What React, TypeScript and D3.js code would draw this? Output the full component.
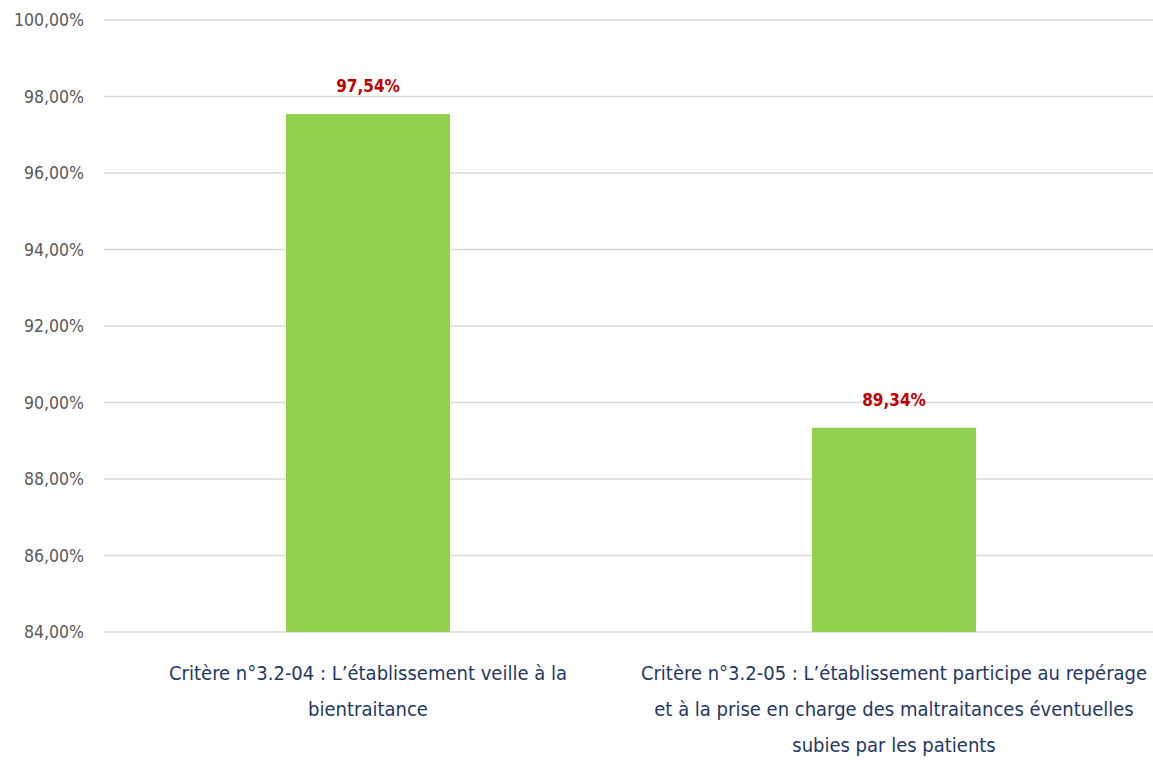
import React from "react";
import * as d3 from "d3";

const categories = ["Critère n°3.2-04", "Critère n°3.2-05"];
const categoryLines = [
  ["Critère n°3.2-04 : L’établissement veille à la", "bientraitance"],
  [
    "Critère n°3.2-05 : L’établissement participe au repérage",
    "et à la prise en charge des maltraitances éventuelles",
    "subies par les patients",
  ],
];
const values = [97.54, 89.34];
const yTicks = [84, 86, 88, 90, 92, 94, 96, 98, 100];

const W = 1153;
const H = 760;
const FONT = "'Liberation Sans Narrow', 'DejaVu Sans Condensed', 'Arial Narrow', sans-serif";

const fmt = (v: number) => v.toFixed(2).replace(".", ",") + "%";

export default function App() {
  const x = d3.scaleBand<string>().domain(categories).range([105, 1157]).paddingInner(0).paddingOuter(0);
  const y = d3.scaleLinear().domain([84, 100]).range([632, 20]);
  const barW = 164;

  return (
    <div style={{ position: "absolute", left: 0, top: 0 }}>
      <svg width={W} height={H} style={{ display: "block", background: "#fff" }}>
        {yTicks.map((t) => (
          <g key={t}>
            <line x1={104} x2={W} y1={y(t)} y2={y(t)} stroke="#d9d9d9" strokeWidth={1.6} />
            <text
              x={84}
              y={y(t)}
              dy="0.35em"
              textAnchor="end"
              fill="#595959"
              fontFamily={FONT}
              fontSize={17.5}
            >
              {fmt(t)}
            </text>
          </g>
        ))}
        {categories.map((c, i) => {
          const cx = (x(c) as number) + x.bandwidth() / 2;
          return (
            <g key={c}>
              <rect x={cx - barW / 2} y={y(values[i])} width={barW} height={y(84) - y(values[i])} fill="#92D050" />
              <text
                x={cx}
                y={y(values[i]) - 22}
                textAnchor="middle"
                fill="#C00000"
                fontWeight="bold"
                fontFamily={FONT}
                fontSize={17}
              >
                {fmt(values[i])}
              </text>
              {categoryLines[i].map((ln, j) => (
                <text
                  key={j}
                  x={cx}
                  y={673 + j * 36}
                  dy="0.35em"
                  textAnchor="middle"
                  fill="#1F3864"
                  fontFamily={FONT}
                  fontSize={20}
                >
                  {ln}
                </text>
              ))}
            </g>
          );
        })}
      </svg>
    </div>
  );
}
